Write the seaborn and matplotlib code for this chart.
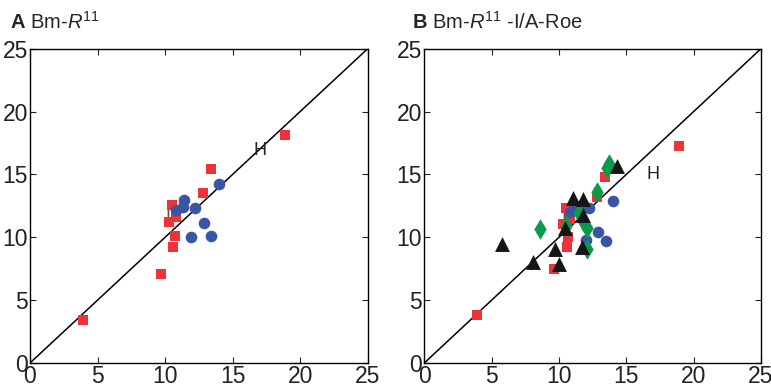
import pandas as pd
import matplotlib
matplotlib.use("Agg")
import matplotlib.pyplot as plt
import seaborn as sns

# Panel A : Bm-R11
a_red_x = [3.9, 9.7, 10.6, 10.7, 10.3, 10.8, 10.5, 12.8, 13.4, 18.9]
a_red_y = [3.4, 7.1, 9.2, 10.1, 11.2, 11.6, 12.6, 13.5, 15.4, 18.1]
a_blue_x = [10.8, 11.3, 11.4, 12.2, 11.95, 12.9, 13.4, 14.0]
a_blue_y = [12.2, 12.4, 13.0, 12.3, 10.0, 11.1, 10.1, 14.2]

# Panel B : Bm-R11 -I/A-Roe
b_red_x = [3.9, 9.65, 10.6, 10.7, 10.3, 10.8, 10.5, 12.8, 13.4, 18.9]
b_red_y = [3.8, 7.45, 9.25, 10.05, 11.05, 11.45, 12.3, 13.2, 14.8, 17.3]
b_blue_x = [10.8, 11.2, 11.6, 12.2, 14.0, 12.0, 12.9, 13.5]
b_blue_y = [12.0, 12.4, 12.5, 12.3, 12.9, 9.8, 10.4, 9.7]
b_green_x = [8.6, 10.5, 11.5, 11.8, 12.1, 12.05, 12.8, 13.6, 13.75]
b_green_y = [10.65, 10.9, 11.9, 11.3, 10.7, 9.1, 13.6, 15.5, 15.85]
b_black_x = [5.8, 8.1, 9.7, 10.0, 10.45, 11.05, 11.8, 11.8, 11.7, 14.3]
b_black_y = [9.45, 8.05, 9.1, 7.9, 10.7, 13.1, 13.05, 11.8, 9.25, 15.7]

ticks = [0, 5, 10, 15, 20, 25]

red = "#ee3338"
blue = "#3b55a5"
green = "#0a9b48"
black = "#161616"

sns.set_style("ticks")
plt.rcParams["font.family"] = ["Liberation Sans Narrow", "Liberation Sans", "DejaVu Sans"]
plt.rcParams["mathtext.fontset"] = "custom"
plt.rcParams["mathtext.rm"] = "Liberation Sans"
plt.rcParams["mathtext.it"] = "Liberation Sans:italic"
plt.rcParams["mathtext.bf"] = "Liberation Sans:bold"

fig = plt.figure(figsize=(7.71, 3.89), dpi=100)
ax_a = fig.add_axes([0.0389, 0.0668, 0.438, 0.808])
ax_b = fig.add_axes([0.5503, 0.0668, 0.4367, 0.808])


def pts(ax, xs, ys, color, marker, size):
    df = pd.DataFrame({"x": xs, "y": ys})
    sns.scatterplot(data=df, x="x", y="y", ax=ax, color=color, marker=marker,
                    s=size, linewidth=0, zorder=3, legend=False)


def setup(ax, h_pos, i_pos):
    ax.plot([0, 25], [0, 25], color="black", lw=1.1, zorder=1)
    ax.set_xlim(0, 25)
    ax.set_ylim(0, 25)
    ax.set_xticks(ticks)
    ax.set_yticks(ticks)
    ax.tick_params(direction="in", top=True, right=True, labelsize=16.5,
                   length=4, width=0.8, pad=1.5, colors="#222222")
    for s in ax.spines.values():
        s.set_linewidth(1.0)
        s.set_color("black")
        s.set_visible(True)
    ax.set_xlabel("")
    ax.set_ylabel("")
    ax.text(h_pos[0], h_pos[1], "H", fontsize=13, color="#222222",
            family="Liberation Sans", ha="center", va="center", zorder=1.5)
    ax.text(i_pos[0], i_pos[1], "I", fontsize=13, color="#555555",
            family="Liberation Sans", ha="center", va="center", zorder=1.5)


pts(ax_a, a_red_x, a_red_y, red, "s", 62)
pts(ax_a, a_blue_x, a_blue_y, blue, "o", 70)
setup(ax_a, (17.0, 16.9), (10.2, 11.9))

pts(ax_b, b_red_x, b_red_y, red, "s", 62)
pts(ax_b, b_blue_x, b_blue_y, blue, "o", 70)
pts(ax_b, b_green_x, b_green_y, green, "d", 110)
pts(ax_b, b_black_x, b_black_y, black, "^", 115)
setup(ax_b, (17.0, 15.0), (10.35, 11.6))

fig.text(10 / 771, 1 - 29 / 389, r"$\mathbf{A}$ Bm-$\mathit{R}^{\mathrm{11}}$",
         fontsize=14.5, family="Liberation Sans", ha="left", va="baseline")
fig.text(412 / 771, 1 - 29 / 389, r"$\mathbf{B}$ Bm-$\mathit{R}^{\mathrm{11}}$ -I/A-Roe",
         fontsize=14.5, family="Liberation Sans", ha="left", va="baseline")

fig.savefig("out.png", dpi=100)
